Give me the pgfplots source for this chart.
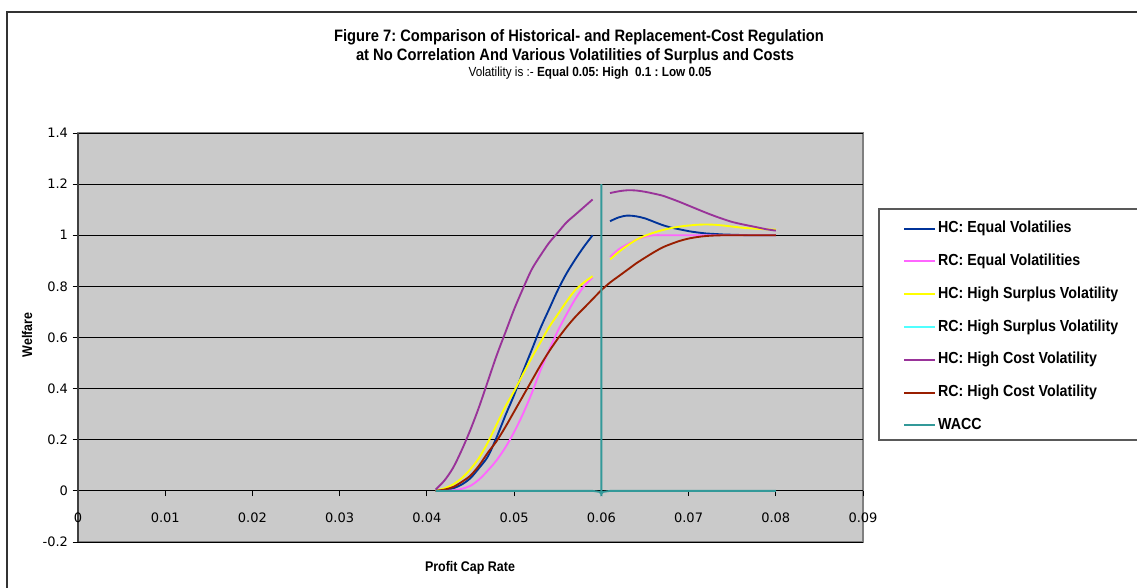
\documentclass[border=0pt]{standalone}
\usepackage{pgfplots}
\pgfplotsset{compat=1.18}
\usepackage{fontspec}
\setmainfont[FakeStretch=0.89]{Liberation Sans}
\newfontfamily\tickfont{DejaVu Sans}

\definecolor{hcEq}{RGB}{0,51,153}
\definecolor{rcEq}{RGB}{255,102,255}
\definecolor{hcHS}{RGB}{255,255,0}
\definecolor{rcHS}{RGB}{80,255,255}
\definecolor{hcHC}{RGB}{153,51,153}
\definecolor{rcHC}{RGB}{153,30,0}
\definecolor{wacc}{RGB}{51,153,153}
\definecolor{plotgrey}{RGB}{202,202,202}

\begin{document}
\frenchspacing
\begin{tikzpicture}
\path[use as bounding box] (0,0) rectangle (852.75pt,441pt);
% chart frame (cut at right and bottom)
\draw[black!80, line width=1.2pt] (5.25pt,-2pt) -- (5.25pt,432pt) -- (860pt,432pt);

\begin{axis}[
    at={(58.5pt,34.5pt)}, anchor=south west,
    scale only axis, width=588.75pt, height=306.75pt,
    xmin=0, xmax=0.09, ymin=-0.2, ymax=1.4,
    axis x line*=middle, axis y line*=left,
    x axis line style={-, black, line width=0.8pt},
    y axis line style={-, black!75, line width=0.8pt},
    axis background/.style={fill=plotgrey, draw=black!50, line width=0.8pt},
    hide obscured x ticks=false, hide obscured y ticks=false,
    scaled x ticks=false, scaled y ticks=false,
    xtick={0,0.01,0.02,0.03,0.04,0.05,0.06,0.07,0.08,0.09},
    xticklabels={0,0.01,0.02,0.03,0.04,0.05,0.06,0.07,0.08,0.09},
    ytick={-0.2,0,0.2,0.4,0.6,0.8,1,1.2,1.4},
    yticklabels={-0.2,0,0.2,0.4,0.6,0.8,1,1.2,1.4},
    ymajorgrids, major grid style={black, line width=0.6pt},
    tick align=outside, major tick length=4pt,
    tick style={black, line width=0.6pt},
    ticklabel style={font=\tickfont\fontsize{9.75}{11}\selectfont},
    xticklabel style={yshift=-9pt},
    unbounded coords=jump,
    every axis plot/.append style={line width=1.4pt},
    legend cell align=left,
    legend image code/.code={\draw[#1, line width=1.4pt] (0pt,0pt) -- (23.25pt,0pt);},
    legend style={at={(1.0204,0.8142)}, anchor=north west, draw=none, fill=none,
        inner xsep=18pt, inner ysep=8.45pt, row sep=12.5pt, column sep=1pt,
        font=\bfseries\fontsize{12}{14}\selectfont,
        nodes={inner sep=0.5pt, text height=8.6pt, text depth=2.5pt}},
]

% HC: Equal Volatilities
\addplot[color=hcEq, smooth] coordinates {
    (0.041,0.000) (0.042,0.003) (0.043,0.010) (0.044,0.025) (0.045,0.050)
    (0.046,0.090) (0.047,0.135) (0.048,0.210) (0.049,0.295) (0.050,0.375)
    (0.051,0.465) (0.052,0.550) (0.053,0.635) (0.054,0.710) (0.055,0.785)
    (0.056,0.850) (0.057,0.905) (0.058,0.955) (0.059,1.000) (0.060,nan)
    (0.061,1.055) (0.062,1.070) (0.063,1.077) (0.064,1.074) (0.065,1.066)
    (0.066,1.053) (0.067,1.040) (0.068,1.030) (0.069,1.023) (0.070,1.016)
    (0.071,1.011) (0.072,1.007) (0.073,1.005) (0.074,1.003) (0.075,1.002)
    (0.076,1.001) (0.077,1.000) (0.078,1.000) (0.079,1.000) (0.080,1.000)
};
\addlegendentry{HC: Equal Volatilies}

% RC: Equal Volatilities
\addplot[color=rcEq, smooth] coordinates {
    (0.041,0.000) (0.042,0.000) (0.043,0.002) (0.044,0.008) (0.045,0.020)
    (0.046,0.045) (0.047,0.080) (0.048,0.120) (0.049,0.170) (0.050,0.230)
    (0.051,0.300) (0.052,0.380) (0.053,0.470) (0.054,0.550) (0.055,0.625)
    (0.056,0.690) (0.057,0.750) (0.058,0.800) (0.059,0.835) (0.060,nan)
    (0.061,0.915) (0.062,0.945) (0.063,0.965) (0.064,0.982) (0.065,0.994)
    (0.066,1.000) (0.067,1.000) (0.068,1.000) (0.069,1.000) (0.070,1.000)
    (0.071,1.000) (0.072,1.000) (0.073,1.000) (0.074,1.000) (0.075,1.000)
    (0.076,1.000) (0.077,1.000) (0.078,1.000) (0.079,1.000) (0.080,1.000)
};
\addlegendentry{RC: Equal Volatilities}

% HC: High Surplus Volatility
\addplot[color=hcHS, smooth] coordinates {
    (0.041,0.000) (0.042,0.010) (0.043,0.025) (0.044,0.050) (0.045,0.085)
    (0.046,0.130) (0.047,0.190) (0.048,0.260) (0.049,0.330) (0.050,0.390)
    (0.051,0.455) (0.052,0.520) (0.053,0.580) (0.054,0.640) (0.055,0.690)
    (0.056,0.740) (0.057,0.785) (0.058,0.815) (0.059,0.840) (0.060,nan)
    (0.061,0.905) (0.062,0.935) (0.063,0.960) (0.064,0.982) (0.065,0.998)
    (0.066,1.010) (0.067,1.020) (0.068,1.028) (0.069,1.034) (0.070,1.038)
    (0.071,1.041) (0.072,1.042) (0.073,1.041) (0.074,1.038) (0.075,1.034)
    (0.076,1.030) (0.077,1.027) (0.078,1.025) (0.079,1.023) (0.080,1.022)
};
\addlegendentry{HC: High Surplus Volatility}

% RC: High Surplus Volatility (hidden behind the other series)
\addlegendimage{color=rcHS}
\addlegendentry{RC: High Surplus Volatility}

% HC: High Cost Volatility
\addplot[color=hcHC, smooth] coordinates {
    (0.041,0.005) (0.042,0.040) (0.043,0.090) (0.044,0.160) (0.045,0.240)
    (0.046,0.330) (0.047,0.430) (0.048,0.530) (0.049,0.620) (0.050,0.710)
    (0.051,0.790) (0.052,0.865) (0.053,0.920) (0.054,0.970) (0.055,1.010)
    (0.056,1.050) (0.057,1.080) (0.058,1.110) (0.059,1.140) (0.060,nan)
    (0.061,1.165) (0.062,1.172) (0.063,1.176) (0.064,1.175) (0.065,1.170)
    (0.066,1.163) (0.067,1.155) (0.068,1.143) (0.069,1.130) (0.070,1.116)
    (0.071,1.102) (0.072,1.088) (0.073,1.075) (0.074,1.063) (0.075,1.052)
    (0.076,1.044) (0.077,1.037) (0.078,1.030) (0.079,1.023) (0.080,1.018)
};
\addlegendentry{HC: High Cost Volatility}

% RC: High Cost Volatility
\addplot[color=rcHC, smooth] coordinates {
    (0.041,0.000) (0.042,0.005) (0.043,0.015) (0.044,0.035) (0.045,0.060)
    (0.046,0.100) (0.047,0.150) (0.048,0.195) (0.049,0.250) (0.050,0.310)
    (0.051,0.370) (0.052,0.430) (0.053,0.490) (0.054,0.545) (0.055,0.595)
    (0.056,0.640) (0.057,0.680) (0.058,0.715) (0.059,0.750) (0.060,0.785)
    (0.061,0.815) (0.062,0.840) (0.063,0.865) (0.064,0.890) (0.065,0.912)
    (0.066,0.933) (0.067,0.952) (0.068,0.966) (0.069,0.978) (0.070,0.987)
    (0.071,0.993) (0.072,0.997) (0.073,0.999) (0.074,1.000) (0.075,1.000)
    (0.076,1.000) (0.077,1.000) (0.078,1.000) (0.079,1.000) (0.080,1.000)
};
\addlegendentry{RC: High Cost Volatility}

% WACC
\addplot[color=wacc] coordinates {
    (0.041,0) (0.059,0) (0.0598,-0.004) (0.060,-0.012) (0.060,1.2)
    (0.060,-0.012) (0.0602,-0.004) (0.061,0) (0.080,0)
};
\addlegendentry{WACC}
\end{axis}

% legend frame (cut at right edge)
\draw[black!65, line width=0.8pt] (860pt,284.25pt) -- (659.25pt,284.25pt) -- (659.25pt,111pt) -- (860pt,111pt);

% titles
\node[anchor=base, font=\bfseries\fontsize{12.4}{14}\selectfont] at (434.25pt,409.5pt)
    {Figure 7: Comparison of Historical- and Replacement-Cost Regulation};
\node[anchor=base, font=\bfseries\fontsize{12.4}{14}\selectfont] at (431.25pt,395.25pt)
    {at No Correlation And Various Volatilities of Surplus and Costs};
\node[anchor=base, font=\fontsize{9.9}{12}\selectfont] at (442.5pt,383.6pt)
    {Volatility is :- \textbf{Equal 0.05: High\ \ 0.1 : Low 0.05}};
\node[anchor=base, font=\bfseries\fontsize{10.5}{12}\selectfont] at (352.5pt,12pt) {Profit Cap Rate};
\node[rotate=90, font=\bfseries\fontsize{10.5}{12}\selectfont] at (20.25pt,189.75pt) {Welfare};
\end{tikzpicture}
\end{document}
